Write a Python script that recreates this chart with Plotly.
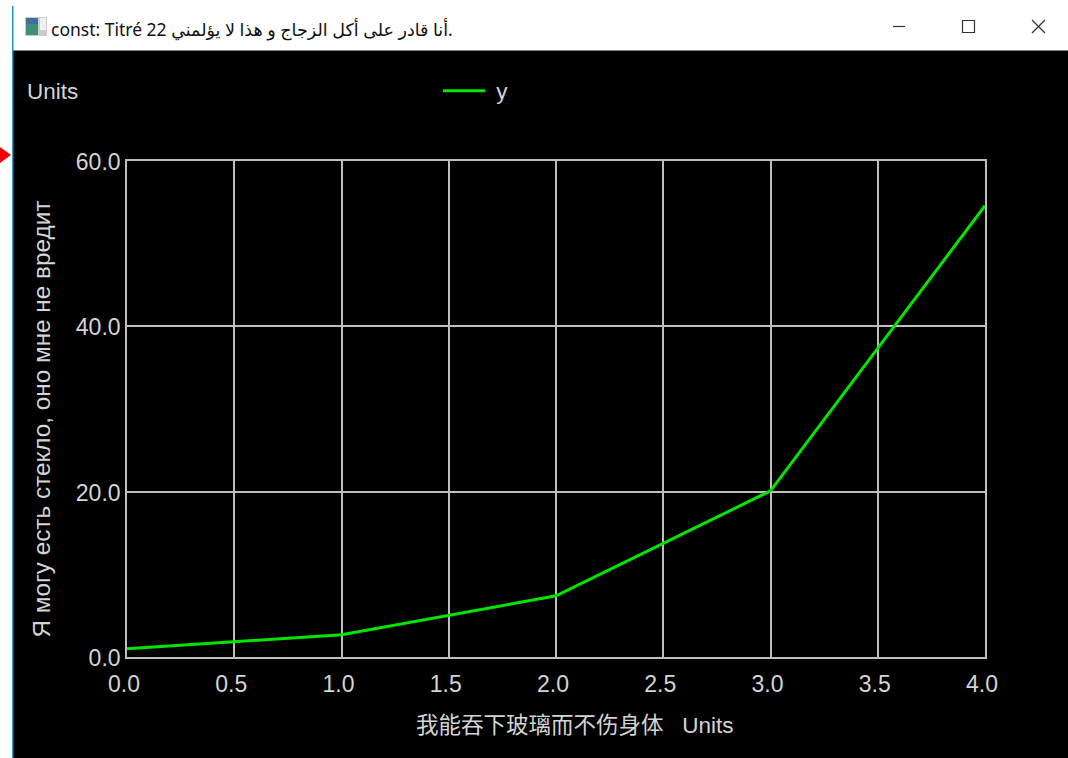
import plotly.graph_objects as go

x_values = [0.0, 1.0, 2.0, 3.0, 4.0]
y_values = [1.0, 2.7, 7.4, 20.1, 54.6]
series_name = "\u200b\u00a0y"
window_title = "const: Titré 22 أنا قادر على أكل الزجاج و هذا لا يؤلمني."
x_title = "我能吞下玻璃而不伤身体\u00a0\u00a0\u00a0Units"
y_title = "Я могу есть стекло, оно мне не вредит"
corner_label = "Units"

W, H = 1068, 758
L, R, T, B = 127, 985, 161, 657
TEXT = "#d4d4d4"
GRID = "#bebebe"
FONT = "Liberation Sans, Noto Sans CJK SC, sans-serif"


def px(v):
    return (v - L) / (R - L)


def py(v):
    return (B - v) / (B - T)


def rect(x0, y0, x1, y1, fill, line=None, width=0):
    return dict(type="rect", xref="paper", yref="paper",
                x0=px(x0), x1=px(x1), y0=py(y0), y1=py(y1),
                fillcolor=fill, line=dict(color=line or fill, width=width),
                layer="below")


def seg(x0, y0, x1, y1, color, width=1.2):
    return dict(type="line", xref="paper", yref="paper",
                x0=px(x0), x1=px(x1), y0=py(y0), y1=py(y1),
                line=dict(color=color, width=width), layer="below")


shapes = [
    rect(0, 0, W, 50, "#ffffff"),
    rect(0, 0, 12, H, "#ffffff"),
    rect(12, 6, 13.5, H, "#1e9ac0"),
    seg(13, 50.5, W, 50.5, "#808080", 1.2),
    # window icon
    rect(25, 17, 47, 36, "#c8ccd0"),
    rect(26, 18, 38, 35, "#3f8f78"),
    rect(26, 18, 38, 24, "#3d6f9a"),
    rect(40, 18, 46, 30, "#eef0f0"),
    # window buttons
    seg(893, 26.5, 905, 26.5, "#333333"),
    rect(962.5, 20.5, 974.5, 32.5, "rgba(0,0,0,0)", "#333333", 1.2),
    seg(1032, 20, 1045, 33, "#333333"),
    seg(1045, 20, 1032, 33, "#333333"),
    # red marker on the window edge
    dict(type="path", xref="paper", yref="paper", layer="below",
         path=f"M {px(0)} {py(147)} L {px(11)} {py(155)} L {px(0)} {py(163)} Z",
         fillcolor="#f00000", line=dict(width=0)),
]

annotations = [
    dict(text=window_title, xref="paper", yref="paper", x=px(49), y=py(29),
         xanchor="left", yanchor="middle", showarrow=False,
         font=dict(family="Noto Sans, DejaVu Sans, sans-serif", size=17.5, color="#111111")),
    dict(text=corner_label, xref="paper", yref="paper", x=px(25), y=py(91),
         xanchor="left", yanchor="middle", showarrow=False,
         font=dict(family=FONT, size=22.5, color=TEXT)),
]

fig = go.Figure(go.Scatter(x=x_values, y=y_values, mode="lines", name=series_name,
                           line=dict(color="#00e600", width=3)))

axis_common = dict(showgrid=True, gridcolor=GRID, gridwidth=1.6, showline=True,
                   linecolor=GRID, linewidth=1.6, mirror=True, zeroline=False,
                   ticks="", tickformat=".1f",
                   tickfont=dict(family=FONT, size=23, color=TEXT))

fig.update_layout(
    width=W, height=H, autosize=False,
    margin=dict(l=L, r=W - R, t=T, b=H - B, pad=0),
    paper_bgcolor="#000000", plot_bgcolor="#000000",
    font=dict(family=FONT, color=TEXT, size=22),
    shapes=shapes, annotations=annotations,
    showlegend=True,
    legend=dict(x=px(438), y=py(91), xanchor="left", yanchor="middle",
                orientation="h", bgcolor="rgba(0,0,0,0)", itemwidth=42,
                font=dict(family=FONT, size=22.5, color=TEXT)),
    xaxis=dict(range=[0, 4], dtick=0.5, tick0=0,
               ticklabelstandoff=6, ticklabelshift=-3,
               title=dict(text="\u200b" + "\u00a0" * 6 + x_title, standoff=21,
                          font=dict(family=FONT, size=22.5, color=TEXT)),
               **axis_common),
    yaxis=dict(range=[0, 60], dtick=20, tick0=0,
               ticklabelshift=1,
               title=dict(text=y_title + "\u00a0" * 3 + "\u200b", standoff=18,
                          font=dict(family=FONT, size=24.3, color=TEXT)),
               **axis_common),
)

fig.write_html("out.html", config={"displayModeBar": False},
               post_script="document.body.style.margin='0';document.body.style.overflow='hidden';")
